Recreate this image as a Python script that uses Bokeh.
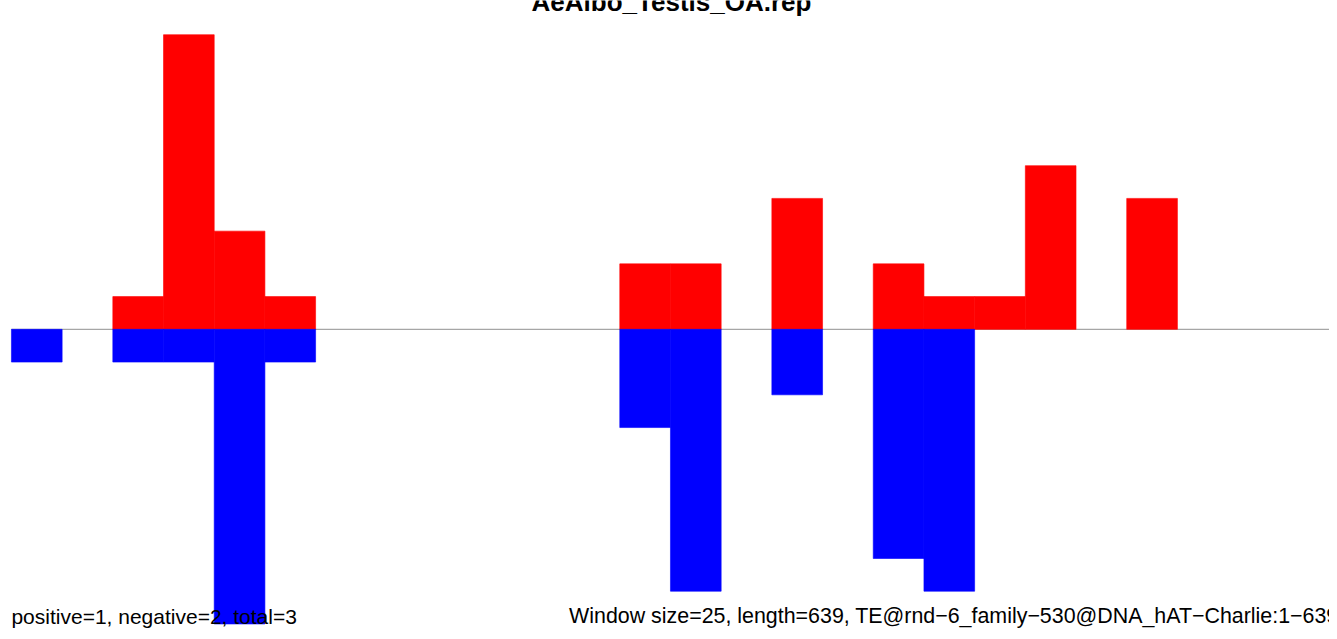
from bokeh.plotting import figure
from bokeh.models import Range1d
from bokeh.core.properties import value
from bokeh.embed import file_html
from bokeh.resources import INLINE

# Data: counts per window (window size 25, length 639 -> 26 windows)
windows = list(range(26))
positive_counts = [0, 0, 1, 9, 3, 1, 0, 0, 0, 0, 0, 0, 2, 2, 0, 4, 0, 2, 1, 1, 5, 0, 4, 0, 0, 0]
negative_counts = [1, 0, 1, 1, 9, 1, 0, 0, 0, 0, 0, 0, 3, 8, 0, 2, 0, 7, 8, 0, 0, 0, 0, 0, 0, 0]
title_text = "AeAlbo_Testis_OA.rep"
left_note = "positive=1, negative=2, total=3"
right_note = "Window size=25, length=639, TE@rnd\u22126_family\u2212530@DNA_hAT\u2212Charlie:1\u2212639"

W, H = 1329, 631
p = figure(width=W, height=H, output_backend="svg", toolbar_location=None,
           x_range=Range1d(-0.2157, 26.0), y_range=Range1d(-9.23, 10.045),
           min_border=0, min_border_left=0, min_border_right=0,
           min_border_top=0, min_border_bottom=0)
p.axis.visible = False
p.xgrid.visible = False
p.ygrid.visible = False
p.outline_line_color = None
p.background_fill_color = "white"
p.border_fill_color = "white"

# zero line
p.segment(x0=[0], y0=[0], x1=[26.5], y1=[0], line_color="#a6a6a6", line_width=1.2)

pos_x = [w + 0.5 for w, c in zip(windows, positive_counts) if c > 0]
pos_v = [c for c in positive_counts if c > 0]
neg_x = [w + 0.5 for w, c in zip(windows, negative_counts) if c > 0]
neg_v = [-c for c in negative_counts if c > 0]

p.vbar(x=pos_x, width=1.0, bottom=0, top=pos_v,
       fill_color="#ff0000", line_color="#ff0000", line_width=0.6)
p.vbar(x=neg_x, width=1.0, bottom=neg_v, top=0,
       fill_color="#0000ff", line_color="#0000ff", line_width=0.6)

font = value("Liberation Sans")
p.text(x=[13.02], y=[9.99], text=[title_text], text_font=font,
       text_font_size="26px", text_font_style="bold", text_align="center",
       text_baseline="alphabetic", text_color="black")
p.text(x=[0.0], y=[-8.77], text=[left_note], text_font=font,
       text_font_size="21px", text_align="left", text_baseline="alphabetic",
       text_color="black")
p.text(x=[11.0], y=[-8.77], text=[right_note], text_font=font,
       text_font_size="21.4px", text_align="left", text_baseline="alphabetic",
       text_color="black")

open("out.html", "w").write(file_html(p, INLINE))
